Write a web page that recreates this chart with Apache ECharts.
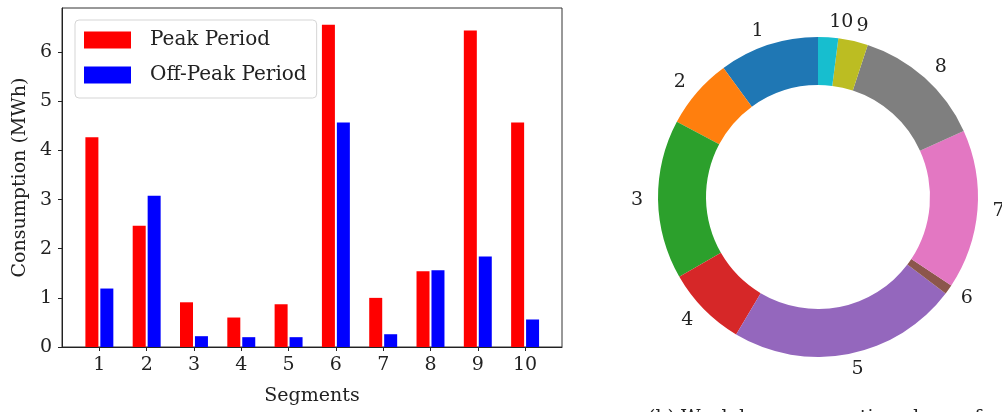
<!DOCTYPE html>
<html>
<head>
<meta charset="utf-8">
<script src="https://cdn.jsdelivr.net/npm/echarts@6/dist/echarts.min.js"></script>
<style>
  html, body { margin: 0; padding: 0; background: #fff; }
  #chart { width: 1002px; height: 412px; }
</style>
</head>
<body>
<div id="chart"></div>
<script>
// data
const segments = [1, 2, 3, 4, 5, 6, 7, 8, 9, 10]
const peak = [4.27, 2.47, 0.91, 0.60, 0.87, 6.56, 1.00, 1.54, 6.44, 4.57]
const offPeak = [1.19, 3.08, 0.22, 0.20, 0.20, 4.57, 0.26, 1.56, 1.84, 0.56]
const share = [10.06, 7.14, 16.11, 8.14, 23.25, 0.97, 16.11, 13.19, 3.0, 2.03]
const yTicks = [0, 1, 2, 3, 4, 5, 6]
const pieColors = ['#1f77b4', '#ff7f0e', '#2ca02c', '#d62728', '#9467bd',
  '#8c564b', '#e377c2', '#7f7f7f', '#bcbd22', '#17becf']

const font = 'DejaVu Serif'
const ink = '#222'
const fs = 19

const chart = echarts.init(document.getElementById('chart'))

const option = {
  animation: false,
  textStyle: { fontFamily: font },
  grid: {
    left: 62, top: 8, width: 500, height: 339,
    show: true, borderColor: '#333', borderWidth: 1
  },
  legend: {
    orient: 'vertical',
    left: 75, top: 20,
    padding: [10, 10, 13, 9],
    itemWidth: 47, itemHeight: 17, itemGap: 15,
    backgroundColor: 'rgba(255,255,255,0.85)',
    borderColor: '#d5d5d5', borderWidth: 1, borderRadius: 4,
    textStyle: { fontFamily: font, fontSize: 20, color: ink, padding: [0, 0, 0, 14] },
    icon: 'rect',
    data: ['Peak Period', 'Off-Peak Period']
  },
  xAxis: {
    type: 'value',
    min: 0.21, max: 10.78,
    name: 'Segments',
    nameLocation: 'middle',
    nameGap: 40,
    nameTextStyle: { fontFamily: font, fontSize: fs, color: ink },
    splitLine: { show: false },
    axisLine: { show: true, lineStyle: { color: ink, width: 1 } },
    axisTick: { show: true, length: 4, customValues: segments, lineStyle: { color: ink } },
    axisLabel: { customValues: segments, fontFamily: font, fontSize: fs, color: ink, margin: 9 }
  },
  yAxis: {
    type: 'value',
    min: 0, max: 6.9,
    name: 'Consumption (MWh)',
    nameLocation: 'middle',
    nameGap: 32,
    nameTextStyle: { fontFamily: font, fontSize: fs, color: ink },
    splitLine: { show: false },
    axisLine: { show: true, lineStyle: { color: ink, width: 1 } },
    axisTick: { show: true, length: 4, customValues: yTicks, lineStyle: { color: ink } },
    axisLabel: { customValues: yTicks, fontFamily: font, fontSize: fs, color: ink, margin: 10 }
  },
  series: [
    {
      name: 'Peak Period',
      type: 'bar',
      barWidth: 13,
      barGap: '15%',
      itemStyle: { color: '#ff0000' },
      data: segments.map((s, i) => [s, peak[i]])
    },
    {
      name: 'Off-Peak Period',
      type: 'bar',
      barWidth: 13,
      barGap: '15%',
      itemStyle: { color: '#0000ff' },
      data: segments.map((s, i) => [s, offPeak[i]])
    },
    {
      name: 'share',
      type: 'pie',
      center: [818, 197],
      radius: [112, 160],
      startAngle: 90,
      clockwise: false,
      avoidLabelOverlap: false,
      legendHoverLink: false,
      label: {
        show: true,
        position: 'outside',
        distanceToLabelLine: 0,
        fontFamily: font,
        fontSize: fs,
        color: ink,
        formatter: '{b}'
      },
      labelLine: { show: false, length: 15, length2: 0 },
      itemStyle: { borderWidth: 0 },
      data: segments.map((s, i) => ({
        name: String(s),
        value: share[i],
        itemStyle: { color: pieColors[i] }
      }))
    }
  ],
  graphic: [
    {
      type: 'text',
      left: 648, top: 409,
      style: { text: '(b) Weekday consumption share of each Segment', fontFamily: font, fontSize: fs, fill: ink }
    }
  ]
}

chart.setOption(option)
</script>
</body>
</html>
